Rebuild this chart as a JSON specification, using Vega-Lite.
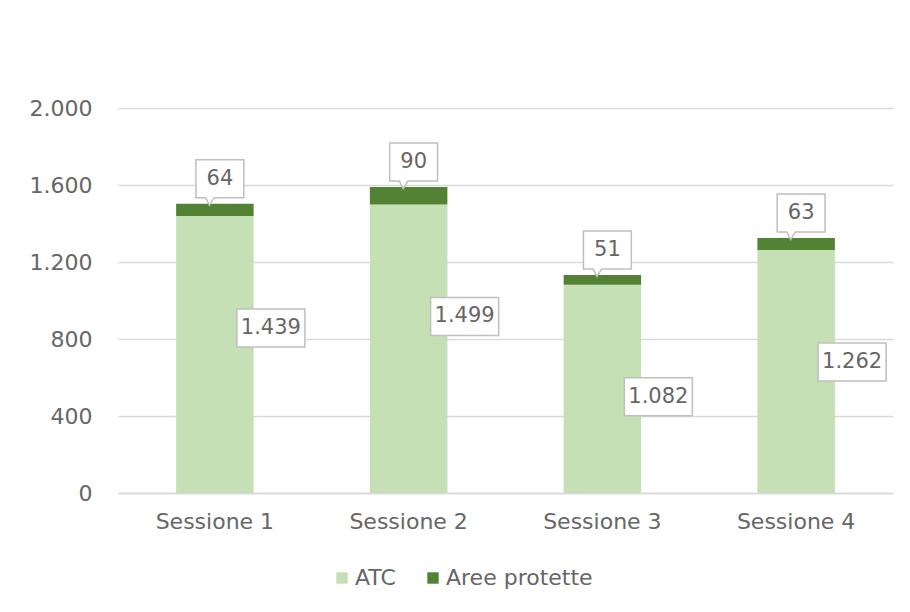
{
  "$schema": "https://vega.github.io/schema/vega-lite/v6.json",
  "width": 775,
  "height": 385,
  "autosize": {"type": "none"},
  "padding": {"left": 118, "top": 108, "right": 17, "bottom": 119},
  "background": "white",
  "config": {
    "locale": {"number": {"decimal": ",", "thousands": ".", "grouping": [3], "currency": ["€", ""]}},
    "view": {"stroke": null},
    "font": "DejaVu Sans"
  },
  "data": {
    "values": [
      {"sessione": "Sessione 1", "serie": "ATC", "valore": 1439},
      {"sessione": "Sessione 1", "serie": "Aree protette", "valore": 64},
      {"sessione": "Sessione 2", "serie": "ATC", "valore": 1499},
      {"sessione": "Sessione 2", "serie": "Aree protette", "valore": 90},
      {"sessione": "Sessione 3", "serie": "ATC", "valore": 1082},
      {"sessione": "Sessione 3", "serie": "Aree protette", "valore": 51},
      {"sessione": "Sessione 4", "serie": "ATC", "valore": 1262},
      {"sessione": "Sessione 4", "serie": "Aree protette", "valore": 63}
    ]
  },
  "transform": [
    {"stack": "valore", "groupby": ["sessione"], "sort": [{"field": "serie", "order": "ascending"}], "as": ["v0", "v1"]}
  ],
  "encoding": {
    "x": {
      "field": "sessione",
      "type": "nominal",
      "scale": {"paddingInner": 0.6, "paddingOuter": 0.3},
      "axis": {
        "title": null,
        "labelAngle": 0,
        "domainColor": "#d9d9d9",
        "domainWidth": 1.5,
        "ticks": false,
        "grid": false,
        "labelPadding": 18,
        "labelFontSize": 22,
        "labelColor": "#666666"
      }
    }
  },
  "layer": [
    {
      "mark": {"type": "bar"},
      "encoding": {
        "y": {
          "field": "v0",
          "type": "quantitative",
          "scale": {"domain": [0, 2000]},
          "axis": {
            "title": null,
            "values": [0, 400, 800, 1200, 1600, 2000],
            "format": ",.0f",
            "grid": true,
            "gridColor": "#d9d9d9",
            "gridWidth": 1.5,
            "domain": false,
            "ticks": false,
            "labelFontSize": 22,
            "labelColor": "#666666",
            "labelPadding": 26
          }
        },
        "y2": {"field": "v1"},
        "color": {
          "field": "serie",
          "type": "nominal",
          "scale": {"domain": ["ATC", "Aree protette"], "range": ["#c5e0b4", "#548235"]},
          "legend": {
            "title": null,
            "orient": "none",
            "legendX": 213,
            "legendY": 459,
            "direction": "horizontal",
            "symbolType": "square",
            "symbolSize": 130,
            "symbolStrokeWidth": 0,
            "labelFontSize": 22,
            "labelColor": "#666666",
            "columnPadding": 26,
            "labelOffset": 2,
            "padding": 0
          }
        }
      }
    },
    {
      "transform": [{"filter": "datum.serie === 'ATC'"}],
      "mark": {"type": "point", "shape": "M-1.79,-1H1.79V1H-1.79Z", "filled": true, "fill": "white", "fillOpacity": 1, "stroke": "#bfbfbf", "strokeWidth": 1.5, "strokeOpacity": 1, "size": 1444, "xOffset": 56, "yOffset": 112},
      "encoding": {"y": {"field": "v1", "type": "quantitative"}}
    },
    {
      "transform": [{"filter": "datum.serie === 'ATC'"}],
      "mark": {"type": "text", "fontSize": 21, "color": "#666666", "align": "center", "baseline": "middle", "xOffset": 56, "yOffset": 112},
      "encoding": {"y": {"field": "v1", "type": "quantitative"}, "text": {"field": "valore", "type": "quantitative", "format": ",.0f"}}
    },
    {
      "transform": [{"filter": "datum.serie === 'Aree protette'"}],
      "mark": {"type": "point", "shape": "M-1.26,-1H1.26V1H-0.3L-0.55,1.4L-0.75,1H-1.26Z", "filled": true, "fill": "white", "fillOpacity": 1, "stroke": "#bfbfbf", "strokeWidth": 1.5, "strokeOpacity": 1, "size": 1444, "xOffset": 5, "yOffset": -25},
      "encoding": {"y": {"field": "v1", "type": "quantitative"}}
    },
    {
      "transform": [{"filter": "datum.serie === 'Aree protette'"}],
      "mark": {"type": "text", "fontSize": 21, "color": "#666666", "align": "center", "baseline": "middle", "xOffset": 5, "yOffset": -25},
      "encoding": {"y": {"field": "v1", "type": "quantitative"}, "text": {"field": "valore", "type": "quantitative", "format": ",.0f"}}
    }
  ]
}
